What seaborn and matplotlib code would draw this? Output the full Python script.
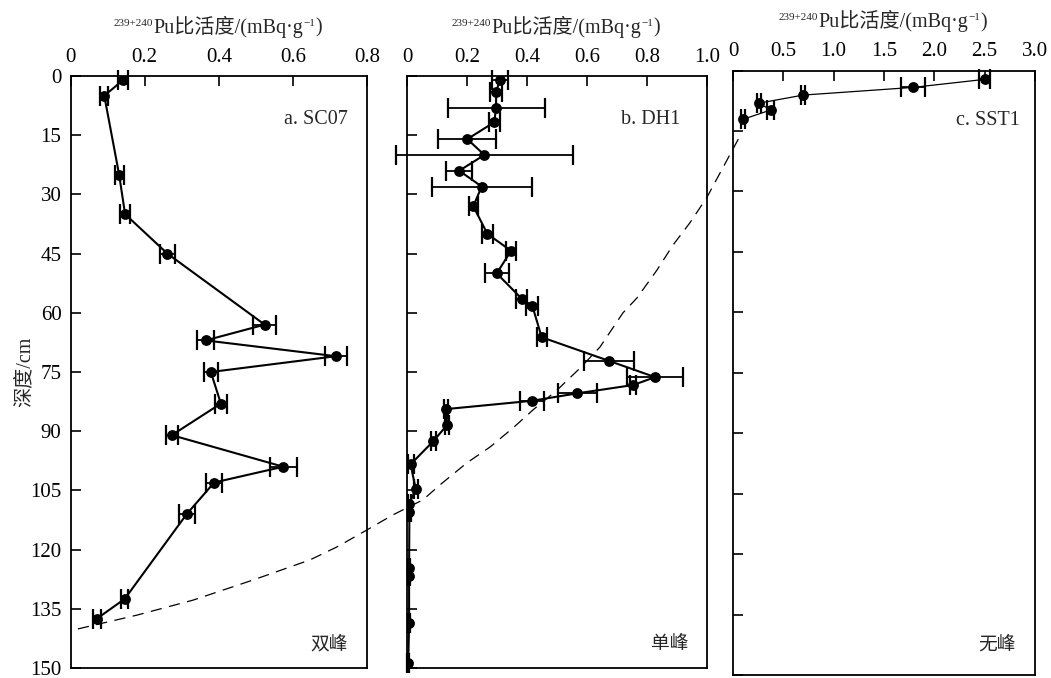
import matplotlib
matplotlib.use("Agg")
import matplotlib.pyplot as plt
import seaborn as sns

# ---- SC07 core (double peak) ----
sc07_depth = [1, 5, 25, 35, 45, 63, 67, 71, 75, 83, 91, 99, 103, 111, 132.5, 137.5]
sc07_pu = [0.142, 0.091, 0.131, 0.147, 0.261, 0.523, 0.364, 0.715, 0.378, 0.405,
           0.273, 0.573, 0.387, 0.313, 0.146, 0.071]
sc07_err = [0.013, 0.011, 0.012, 0.013, 0.021, 0.031, 0.022, 0.030, 0.019, 0.016,
            0.017, 0.036, 0.022, 0.022, 0.010, 0.011]

# ---- DH1 core (single peak) ----
dh1_depth = [1, 4, 8, 11.7, 16, 20, 24, 28, 33, 40, 44.3, 50, 56.4, 58.3, 66.2,
             72.2, 76.3, 78.3, 80.4, 82.3, 84.4, 88.4, 92.5, 98.4, 104.6,
             108.4, 110.4, 124.6, 126.7, 138.7, 148.8]
dh1_pu = [0.309, 0.296, 0.296, 0.290, 0.200, 0.257, 0.173, 0.248, 0.220, 0.267,
          0.346, 0.298, 0.381, 0.417, 0.448, 0.673, 0.826, 0.753, 0.567, 0.415,
          0.129, 0.133, 0.087, 0.011, 0.028, 0.007, 0.007, 0.006, 0.006, 0.006, 0.003]
dh1_err = [0.028, 0.020, 0.162, 0.018, 0.097, 0.294, 0.044, 0.166, 0.015, 0.019,
           0.016, 0.040, 0.018, 0.020, 0.017, 0.084, 0.093, 0.010, 0.066, 0.041,
           0.007, 0.007, 0.007, 0.010, 0.007, 0.004, 0.004, 0.003, 0.003, 0.003, 0.003]

# ---- SST1 core (no peak) ----
sst1_depth = [2.2, 4.2, 6.1, 8.1, 9.8, 12.1]
sst1_pu = [2.50, 1.786, 0.697, 0.259, 0.375, 0.10]
sst1_err = [0.053, 0.12, 0.02, 0.02, 0.035, 0.02]

# ---- dashed trend across the three cores (in DH1 axis units) ----
trend_pu = [-1.098, -0.901, -0.714, -0.514, -0.324, -0.234, -0.134, -0.048, 0.052,
            0.109, 0.199, 0.276, 0.352, 0.419, 0.499, 0.576, 0.642, 0.719, 0.766,
            0.832, 0.886, 0.942, 0.999, 1.109]
trend_depth = [140.1, 136.6, 132.8, 127.7, 122.6, 119.3, 115.0, 111.2, 107.4,
               103.6, 98.0, 94.0, 89.2, 84.6, 79.6, 74.0, 68.7, 60.0, 56.2,
               49.2, 42.8, 37.2, 30.7, 15.2]

depth_ticks = [0, 15, 30, 45, 60, 75, 90, 105, 120, 135, 150]
xticks_a = [0, 0.2, 0.4, 0.6, 0.8]
xlabels_a = ["0", "0.2", "0.4", "0.6", "0.8"]
xticks_b = [0, 0.2, 0.4, 0.6, 0.8, 1.0]
xlabels_b = ["0", "0.2", "0.4", "0.6", "0.8", "1.0"]
xticks_c = [0, 0.5, 1.0, 1.5, 2.0, 2.5, 3.0]
xlabels_c = ["0", "0.5", "1.0", "1.5", "2.0", "2.5", "3.0"]

panel_names = ["a. SC07", "b. DH1", "c. SST1"]
peak_types = ["双峰", "单峰", "无峰"]

sns.set_style("ticks")
plt.rcParams["font.family"] = ["Liberation Serif", "Noto Sans CJK SC", "DejaVu Sans"]
plt.rcParams["axes.linewidth"] = 1.2

W, H = 1051, 678
fig = plt.figure(figsize=(W / 100, H / 100), dpi=100)
fig.patch.set_facecolor("white")


def px_axes(left, top, right, bottom):
    return fig.add_axes([left / W, 1 - bottom / H, (right - left) / W, (bottom - top) / H])


ax_a = px_axes(70.5, 76, 367.5, 668)
ax_b = px_axes(407.3, 76, 707.3, 668)
ax_c = px_axes(733, 70.5, 1035, 675)


def pu_title(ax, dx=6.5, dy=31.0):
    main = ax.annotate("Pu比活度/(mBq·g", xy=(0.5, 1.0), xycoords="axes fraction",
                       xytext=(dx, dy), textcoords="offset points",
                       ha="center", va="baseline", fontsize=14.5)
    ax.annotate("239+240", xy=(0, 1), xycoords=main, xytext=(-0.3, -2.0),
                textcoords="offset points", ha="right", va="top", fontsize=8)
    sup = ax.annotate("−1", xy=(1, 1), xycoords=main, xytext=(0.3, -2.0),
                      textcoords="offset points", ha="left", va="top", fontsize=8)
    ax.annotate(")", xy=(1, 0), xycoords=(sup, main), ha="left", va="bottom",
                fontsize=14.5)


def draw_core(ax, pu, depth, err, lw):
    sns.lineplot(x=pu, y=depth, sort=False, estimator=None, ax=ax, color="black",
                 lw=lw, marker="o", markersize=7.8, markeredgewidth=0, zorder=3)
    ax.errorbar(pu, depth, xerr=err, fmt="none", ecolor="black", elinewidth=1.3,
                capsize=7, capthick=1.6, zorder=2, clip_on=False)


def style_axes(ax, xticks, xlabels, xmax, show_ylabels):
    ax.set_facecolor("none")
    ax.set_xlim(0, xmax)
    ax.set_ylim(150, 0)
    ax.xaxis.tick_top()
    ax.set_xticks(xticks)
    ax.set_xticklabels(xlabels)
    ax.set_yticks(depth_ticks)
    if show_ylabels:
        ax.set_yticklabels([str(t) for t in depth_ticks])
    else:
        ax.set_yticklabels([])
    ax.tick_params(axis="both", direction="in", length=7.5, width=1.2,
                   labelsize=15, pad=6.5, colors="black")
    ax.tick_params(axis="x", top=True, bottom=False)
    ax.tick_params(axis="y", left=True, right=False)
    for s in ax.spines.values():
        s.set_visible(True)
        s.set_color("black")
        s.set_linewidth(1.3)
    ax.set_xlabel("")
    ax.set_ylabel("")
    pu_title(ax)


draw_core(ax_a, sc07_pu, sc07_depth, sc07_err, 1.5)
draw_core(ax_b, dh1_pu, dh1_depth, dh1_err, 1.5)
draw_core(ax_c, sst1_pu, sst1_depth, sst1_err, 0.9)

style_axes(ax_a, xticks_a, xlabels_a, 0.8, True)
style_axes(ax_b, xticks_b, xlabels_b, 1.0, False)
style_axes(ax_c, xticks_c, xlabels_c, 3.0, False)

ax_a.set_ylabel("深度/cm", fontsize=14.5)
ax_a.yaxis.set_label_coords(-0.12, 0.5)

# dashed trend line spanning all three panels
sns.lineplot(x=trend_pu, y=trend_depth, sort=False, estimator=None, ax=ax_b,
             color="black", lw=0.9, linestyle=(0, (9, 6)), clip_on=False, zorder=1)

name_pos = [(0.933, 0.927), (0.909, 0.927), (0.950, 0.918)]
peak_pos = [(0.933, 0.039), (0.936, 0.039), (0.937, 0.050)]
for ax, name, peak, npos, ppos in zip([ax_a, ax_b, ax_c], panel_names, peak_types,
                                      name_pos, peak_pos):
    ax.text(npos[0], npos[1], name, transform=ax.transAxes, ha="right",
            va="center", fontsize=14.5)
    ax.text(ppos[0], ppos[1], peak, transform=ax.transAxes, ha="right",
            va="center", fontsize=13.5)

fig.savefig("out.png", dpi=100, facecolor="white")
